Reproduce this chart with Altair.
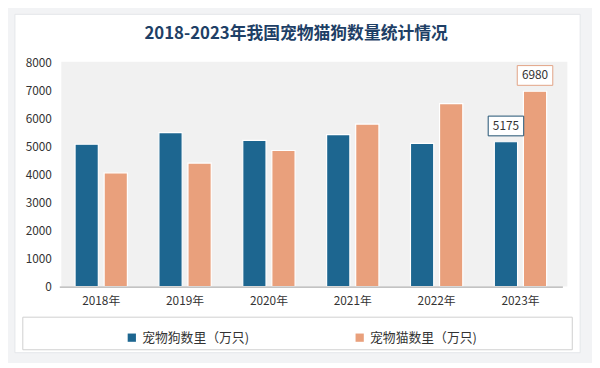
import altair as alt
import pandas as pd

title_text = "2018-2023年我国宠物猫狗数量统计情况"
years = ["2018年", "2019年", "2020年", "2021年", "2022年", "2023年"]
dogs = [5085, 5503, 5222, 5429, 5119, 5175]
cats = [4064, 4412, 4862, 5806, 6536, 6980]
series = ["宠物狗数里（万只)", "宠物猫数里（万只)"]
colors = ["#1d6690", "#e9a07c"]
y_ticks = [0, 1000, 2000, 3000, 4000, 5000, 6000, 7000, 8000]

rows = []
for i, yr in enumerate(years):
    rows.append({"year": yr, "series": series[0], "value": dogs[i]})
    rows.append({"year": yr, "series": series[1], "value": cats[i]})
df = pd.DataFrame(rows)

W, H = 510, 227

x_enc = alt.X("year:N", sort=years, title=None,
              scale=alt.Scale(paddingInner=0.376, paddingOuter=0.188),
              axis=alt.Axis(labelAngle=0, ticks=False, domainColor="#9a9a9a",
                            labelFontSize=12, labelColor="#333333", labelPadding=9,
                            labelFont="Noto Sans CJK SC", zindex=1))
xoff = alt.XOffset("series:N", sort=series,
                   scale=alt.Scale(paddingInner=0.2, paddingOuter=0))
y_enc = alt.Y("value:Q", title=None,
              scale=alt.Scale(domain=[0, 8000]),
              axis=alt.Axis(values=y_ticks, format="d", labelOverlap=False,
                            ticks=False, domain=False, grid=False,
                            labelFontSize=12, labelColor="#333333", labelPadding=8,
                            labelFont="Noto Sans CJK SC", zindex=1))
color_enc = alt.Color("series:N", sort=series,
                      scale=alt.Scale(domain=series, range=colors),
                      legend=alt.Legend(title=None, orient="none", legendX=67, legendY=272,
                                        direction="horizontal", columns=2, columnPadding=105,
                                        symbolType="square", symbolSize=70,
                                        labelFontSize=13, labelColor="#333333",
                                        labelFont="Noto Sans CJK SC", symbolStrokeWidth=0,
                                        zindex=1))

one = pd.DataFrame({"t": [title_text]})
card = alt.Chart(one).mark_rect(fill="white", stroke="#e4e6ea").encode(
    x=alt.value(-45), x2=alt.value(528), y=alt.value(-49), y2=alt.value(294))
plotbg = alt.Chart(one).mark_rect(fill="#f1f1f1").encode(
    x=alt.value(2), x2=alt.value(515), y=alt.value(-1), y2=alt.value(H))
legbox = alt.Chart(one).mark_rect(fill=None, stroke="#cfcfcf", strokeWidth=1).encode(
    x=alt.value(-37), x2=alt.value(520), y=alt.value(258), y2=alt.value(291))
title = alt.Chart(one).mark_text(fontSize=17, font="Noto Sans CJK SC", fontWeight="bold",
                                 color="#1e3f66", baseline="middle", align="center").encode(
    x=alt.value(240), y=alt.value(-29), text="t:N")

bars = alt.Chart(df).mark_bar(stroke="white", strokeWidth=1.2).encode(
    x=x_enc, xOffset=xoff, y=y_enc, color=color_enc)

last = df[df["year"] == years[-1]]
box_path = "M-1.8,-2.6L1.8,-2.6L1.8,-0.6L-1.8,-0.6Z"
boxes = alt.Chart(last).mark_point(shape=box_path, size=400, filled=True, fill="white",
                                   strokeWidth=1, opacity=1).encode(
    x=x_enc, xOffset=xoff, y=y_enc,
    stroke=alt.Stroke("series:N", scale=alt.Scale(domain=series, range=["#1d4f70", "#e2a385"]),
                      legend=None))
labels = alt.Chart(last).mark_text(dy=-16, fontSize=12, color="#333333", baseline="middle",
                                   font="Noto Sans CJK SC").encode(
    x=x_enc, xOffset=xoff, y=y_enc, text="value:Q")

chart = alt.layer(card, plotbg, legbox, title, bars, boxes, labels).properties(
    width=W, height=H,
    padding={"left": 52, "top": 53, "right": 30, "bottom": 75},
    autosize=alt.AutoSizeParams(type="none"),
    background="#f2f3f5",
).configure_view(stroke=None)

chart.save("out.html", embed_options={"renderer": "svg", "actions": False})
